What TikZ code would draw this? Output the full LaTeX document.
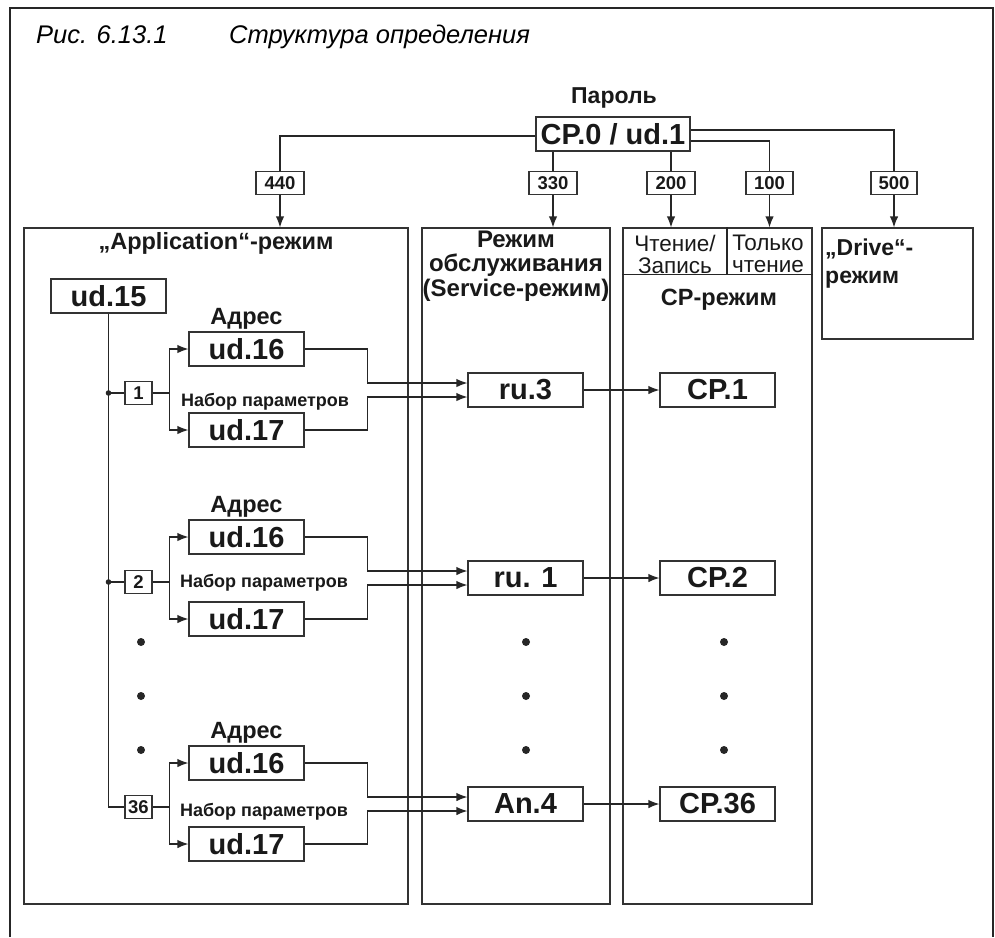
\documentclass[tikz,border=0pt]{standalone}
\usepackage{fontspec}
\setmainfont{Liberation Sans}
\usetikzlibrary{positioning,arrows.meta,calc}

\begin{document}
\begin{tikzpicture}[
    x=1pt, y=-1pt,
    big/.style={draw, black!80, line width=1.2pt, minimum width=115, minimum height=34,
                inner sep=0pt, text=black!90, font=\bfseries\fontsize{29}{30}\selectfont},
    tag/.style={draw, black!80, line width=1.2pt, minimum height=23, inner sep=0pt,
                text=black!90, font=\bfseries\fontsize{18.5}{20}\selectfont},
    area/.style={draw, black!80, line width=1.2pt, inner sep=0pt},
    hdr/.style={font=\bfseries\fontsize{23.5}{24.5}\selectfont, align=center, inner sep=0pt,
                text=black!90},
    prm/.style={font=\bfseries\fontsize{18}{20}\selectfont, inner sep=0pt, anchor=base,
                text=black!90},
    note/.style={font=\fontsize{22.5}{22}\selectfont, align=center, inner sep=0pt,
                 text=black!90},
    op/.style={-{Latex[length=11pt,width=8.5pt]}, black!85, line width=1.2pt},
    ln/.style={black!85, line width=1.2pt},
  ]
  \useasboundingbox (0,0) rectangle (995,937);
  % outer frame (cut at the bottom)
  \draw[line width=2.2pt, black!85] (10,937) -- (10,8) -- (993,8) -- (993,937);

  % caption
  \node[anchor=base west, inner sep=0pt, font=\itshape\fontsize{25.5}{30}\selectfont]
    (fignum) at (36,43) {Рис. 6.13.1};
  \node[anchor=base west, inner sep=0pt, font=\itshape\fontsize{25.5}{30}\selectfont]
    (figname) at (229,43) {Структура определения};

  % password
  \node[hdr, anchor=base, font=\bfseries\fontsize{23}{24}\selectfont] (pwd) at (614,103) {Пароль};
  \node[big, minimum width=154] (cp0) at (613,134) {CP.0 / ud.1};

  % mode areas
  \node[area, minimum width=384, minimum height=676] (app) at (216,566) {};
  \node[area, minimum width=188, minimum height=676] (svc) at (516,566) {};
  \node[area, minimum width=189, minimum height=676] (cpm) at (717.5,566) {};
  \node[area, minimum width=151, minimum height=111] (drv) at (897.5,283.5) {};

  % password values
  \node[tag, minimum width=48] (t440) at (280,183) {440};
  \node[tag, minimum width=48] (t330) at (553,183) {330};
  \node[tag, minimum width=48] (t200) at (671,183) {200};
  \node[tag, minimum width=47] (t100) at (769.5,183) {100};
  \node[tag, minimum width=46] (t500) at (894,183) {500};

  \draw[ln] ([yshift=-2pt]cp0.west) -| (t440.north);
  \draw[op] (t440.south) -- (t440.south |- app.north);
  \draw[ln] (cp0.south -| t330) -- (t330.north);
  \draw[op] (t330.south) -- (t330.south |- svc.north);
  \draw[ln] (cp0.south -| t200) -- (t200.north);
  \draw[op] (t200.south) -- (t200.south |- cpm.north);
  \draw[ln] ([yshift=-7pt]cp0.east) -| (t100.north);
  \draw[op] (t100.south) -- (t100.south |- cpm.north);
  \draw[ln] ([yshift=4pt]cp0.east) -| (t500.north);
  \draw[op] (t500.south) -- (t500.south |- drv.north);

  % area headings
  \node[hdr, anchor=base] (apph) at (216,249) {„Application“-режим};
  \node[hdr, font=\bfseries\fontsize{24}{24.5}\selectfont] (svch) at (516,266)
    {Режим\\обслуживания\\(Service-режим)};
  \draw[ln] ([yshift=-47pt]cpm.north west) -- ([yshift=-47pt]cpm.north east);
  \draw[ln] ([xshift=104.5pt]cpm.north west) -- ([xshift=104.5pt,yshift=-47pt]cpm.north west);
  \node[note] (rw) at (675,254) {Чтение/\\Запись};
  \node[note] (ro) at (768,254) {Только\\чтение};
  \node[hdr] (cph) at (719,300) {CP-режим};
  \node[hdr, font=\bfseries\fontsize{23}{28}\selectfont, align=left, anchor=north west]
    (drvh) at (825,239) {„Drive“-\\режим};

  % parameter set selection
  \node[big] (ud15) at (108.5,296) {ud.15};

  % set 1
  \node[tag, minimum width=27] (n1) at (138.5,393) {1};
  \node[big] (ud16a) at (246.5,349) {ud.16};
  \node[big] (ud17a) at (246.5,430) {ud.17};
  \node[hdr, anchor=base] (adra) at ([yshift=7pt]ud16a.north) {Адрес};
  \node[prm] (prma) at (265,406) {Набор параметров};
  \node[big] (ru3) at (525.5,390) {ru.3};
  \node[big] (cp1) at (717.5,390) {CP.1};

  % set 2
  \node[tag, minimum width=27] (n2) at (138.5,582) {2};
  \node[big] (ud16b) at (246.5,537) {ud.16};
  \node[big] (ud17b) at (246.5,619) {ud.17};
  \node[hdr, anchor=base] (adrb) at ([yshift=7pt]ud16b.north) {Адрес};
  \node[prm] (prmb) at (264,587) {Набор параметров};
  \node[big] (ru1) at (525.5,578) {ru. 1};
  \node[big] (cp2) at (717.5,578) {CP.2};

  % set 36
  \node[tag, minimum width=27] (n36) at (138.5,807) {36};
  \node[big] (ud16c) at (246.5,763) {ud.16};
  \node[big] (ud17c) at (246.5,844) {ud.17};
  \node[hdr, anchor=base] (adrc) at ([yshift=7pt]ud16c.north) {Адрес};
  \node[prm] (prmc) at (264,816) {Набор параметров};
  \node[big] (an4) at (525.5,804) {An.4};
  \node[big] (cp36) at (717.5,804) {CP.36};

  % selector line
  \draw[ln] (ud15.south) |- (n36.west);
  \draw[ln] (n1.west -| ud15.south) -- (n1.west);
  \draw[ln] (n2.west -| ud15.south) -- (n2.west);
  \fill[black!85] (n1.west -| ud15.south) circle (2.8pt);
  \fill[black!85] (n2.west -| ud15.south) circle (2.8pt);

  \draw[op] (n1.east) -- ++(17,0) |- (ud16a.west);
  \draw[op] (n1.east) -- ++(17,0) |- (ud17a.west);
  \draw[op] (n2.east) -- ++(17,0) |- (ud16b.west);
  \draw[op] (n2.east) -- ++(17,0) |- (ud17b.west);
  \draw[op] (n36.east) -- ++(17,0) |- (ud16c.west);
  \draw[op] (n36.east) -- ++(17,0) |- (ud17c.west);

  \draw[op] (ud16a.east) -| ([xshift=-100pt,yshift=7pt]ru3.west) -- ([yshift=7pt]ru3.west);
  \draw[op] (ud17a.east) -| ([xshift=-100pt,yshift=-7pt]ru3.west) -- ([yshift=-7pt]ru3.west);
  \draw[op] (ud16b.east) -| ([xshift=-100pt,yshift=7pt]ru1.west) -- ([yshift=7pt]ru1.west);
  \draw[op] (ud17b.east) -| ([xshift=-100pt,yshift=-7pt]ru1.west) -- ([yshift=-7pt]ru1.west);
  \draw[op] (ud16c.east) -| ([xshift=-100pt,yshift=7pt]an4.west) -- ([yshift=7pt]an4.west);
  \draw[op] (ud17c.east) -| ([xshift=-100pt,yshift=-7pt]an4.west) -- ([yshift=-7pt]an4.west);

  \draw[op] (ru3) -- (cp1);
  \draw[op] (ru1) -- (cp2);
  \draw[op] (an4) -- (cp36);

  % omitted sets
  \foreach \y in {642,696,750} {
    \fill[black!85] (141,\y) circle (4pt);
    \fill[black!85] (526,\y) circle (4pt);
    \fill[black!85] (724,\y) circle (4pt);
  }
\end{tikzpicture}
\end{document}
